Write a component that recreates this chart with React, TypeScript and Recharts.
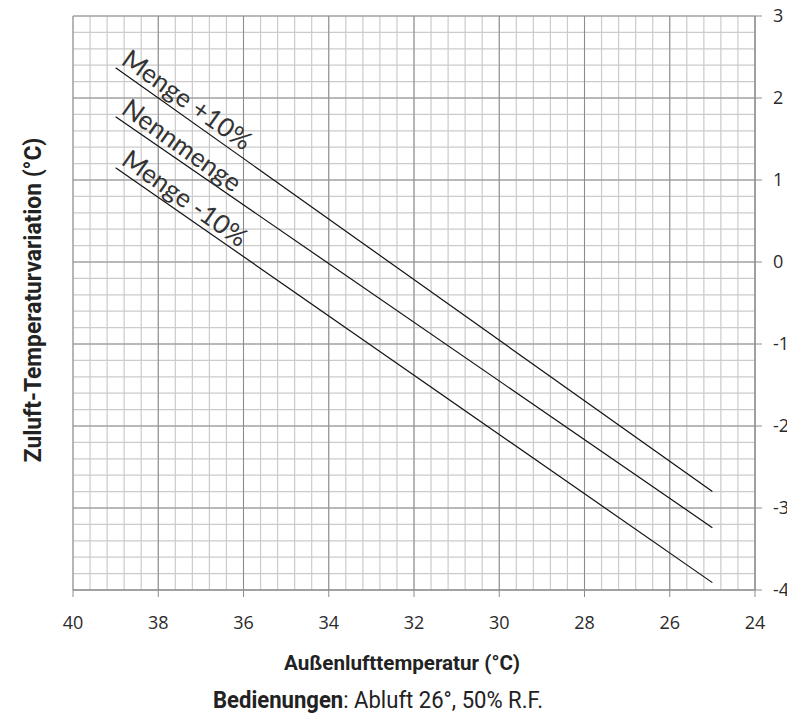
import { LineChart, Line, XAxis, YAxis, ReferenceLine, LabelList } from 'recharts'

// Außenlufttemperatur (°C) at the two ends of each line
const outdoorTemp = [39, 25]
const mengePlus10 = [2.37, -2.8]
const nennmenge = [1.77, -3.24]
const mengeMinus10 = [1.15, -3.91]

const xTicks = [40, 38, 36, 34, 32, 30, 28, 26, 24]
const yTicks = [-4, -3, -2, -1, 0, 1, 2, 3]

// fine grid: 0.4 °C steps on x, 0.2 °C steps on y
const xMinor = Array.from({ length: 41 }, (_, i) => +(24 + i * 0.4).toFixed(1))
const yMinor = Array.from({ length: 36 }, (_, i) => +(-4 + i * 0.2).toFixed(1))

const chartData = outdoorTemp.map((t, i) => ({
  t,
  plus: mengePlus10[i],
  nenn: nennmenge[i],
  minus: mengeMinus10[i],
}))

const seriesLabels: Record<string, string> = {
  plus: 'Menge +10%',
  nenn: 'Nennmenge',
  minus: 'Menge -10%',
}

const LINE_ANGLE = 35.4

const makeLabel = (key: string) => (props: any) => {
  const { x, y, index } = props
  if (index !== 0) return null
  return (
    <text
      x={x}
      y={y}
      dx={1}
      dy={-6}
      transform={`rotate(${LINE_ANGLE}, ${x}, ${y})`}
      fontFamily="Lato, 'Open Sans', sans-serif"
      fontSize={26}
      fill="#333"
    >
      {seriesLabels[key]}
    </text>
  )
}

const tickStyle = { fontFamily: "'Open Sans', sans-serif", fontSize: 18, fill: '#2b2b2b' }
const condensed = "Roboto, 'Liberation Sans', sans-serif"

export default function App() {
  return (
    <div style={{ position: 'relative', width: 787, height: 713, marginTop: -8 }}>
      <LineChart
        width={787}
        height={638}
        data={chartData}
        margin={{ top: 16, right: 8, left: 65, bottom: 8 }}
      >
        <XAxis
          dataKey="t"
          type="number"
          domain={[24, 40]}
          reversed
          ticks={xTicks}
          interval={0}
          height={40}
          tickSize={7}
          tickMargin={19}
          stroke="#8c8c8c"
          tick={tickStyle}
        />
        <YAxis
          orientation="right"
          type="number"
          domain={[-4, 3]}
          ticks={yTicks}
          interval={0}
          width={32}
          tickSize={7}
          tickMargin={11}
          stroke="#8c8c8c"
          tick={tickStyle}
        />
        {xMinor.map((v) => (
          <ReferenceLine key={'xm' + v} x={v} stroke="#cbcbcb" strokeWidth={1.2} />
        ))}
        {yMinor.map((v) => (
          <ReferenceLine key={'ym' + v} y={v} stroke="#cbcbcb" strokeWidth={1.2} />
        ))}
        {xTicks.map((v) => (
          <ReferenceLine key={'xM' + v} x={v} stroke="#8c8c8c" />
        ))}
        {yTicks.map((v) => (
          <ReferenceLine key={'yM' + v} y={v} stroke="#8c8c8c" />
        ))}
        {(['plus', 'nenn', 'minus'] as const).map((k) => (
          <Line
            key={k}
            dataKey={k}
            stroke="#111"
            strokeWidth={1.2}
            dot={false}
            isAnimationActive={false}
          >
            <LabelList dataKey={k} content={makeLabel(k)} />
          </Line>
        ))}
      </LineChart>
      <div
        style={{
          position: 'absolute',
          left: 394,
          top: 663,
          transform: 'translate(-50%, -50%) scaleX(0.98)',
          fontFamily: condensed,
          fontWeight: 'bold',
          fontSize: 21,
          color: '#222',
          whiteSpace: 'nowrap',
        }}
      >
        Außenlufttemperatur (°C)
      </div>
      <div
        style={{
          position: 'absolute',
          left: 370,
          top: 700,
          transform: 'translate(-50%, -50%) scaleX(0.96)',
          fontFamily: condensed,
          fontSize: 23,
          color: '#222',
          whiteSpace: 'nowrap',
        }}
      >
        <b>Bedienungen</b>: Abluft 26°, 50% R.F.
      </div>
      <div
        style={{
          position: 'absolute',
          left: 25,
          top: 300,
          transform: 'translate(-50%, -50%) rotate(-90deg) scaleX(0.95)',
          fontFamily: condensed,
          fontWeight: 'bold',
          fontSize: 24,
          color: '#222',
          whiteSpace: 'nowrap',
        }}
      >
        Zuluft-Temperaturvariation (°C)
      </div>
    </div>
  )
}
